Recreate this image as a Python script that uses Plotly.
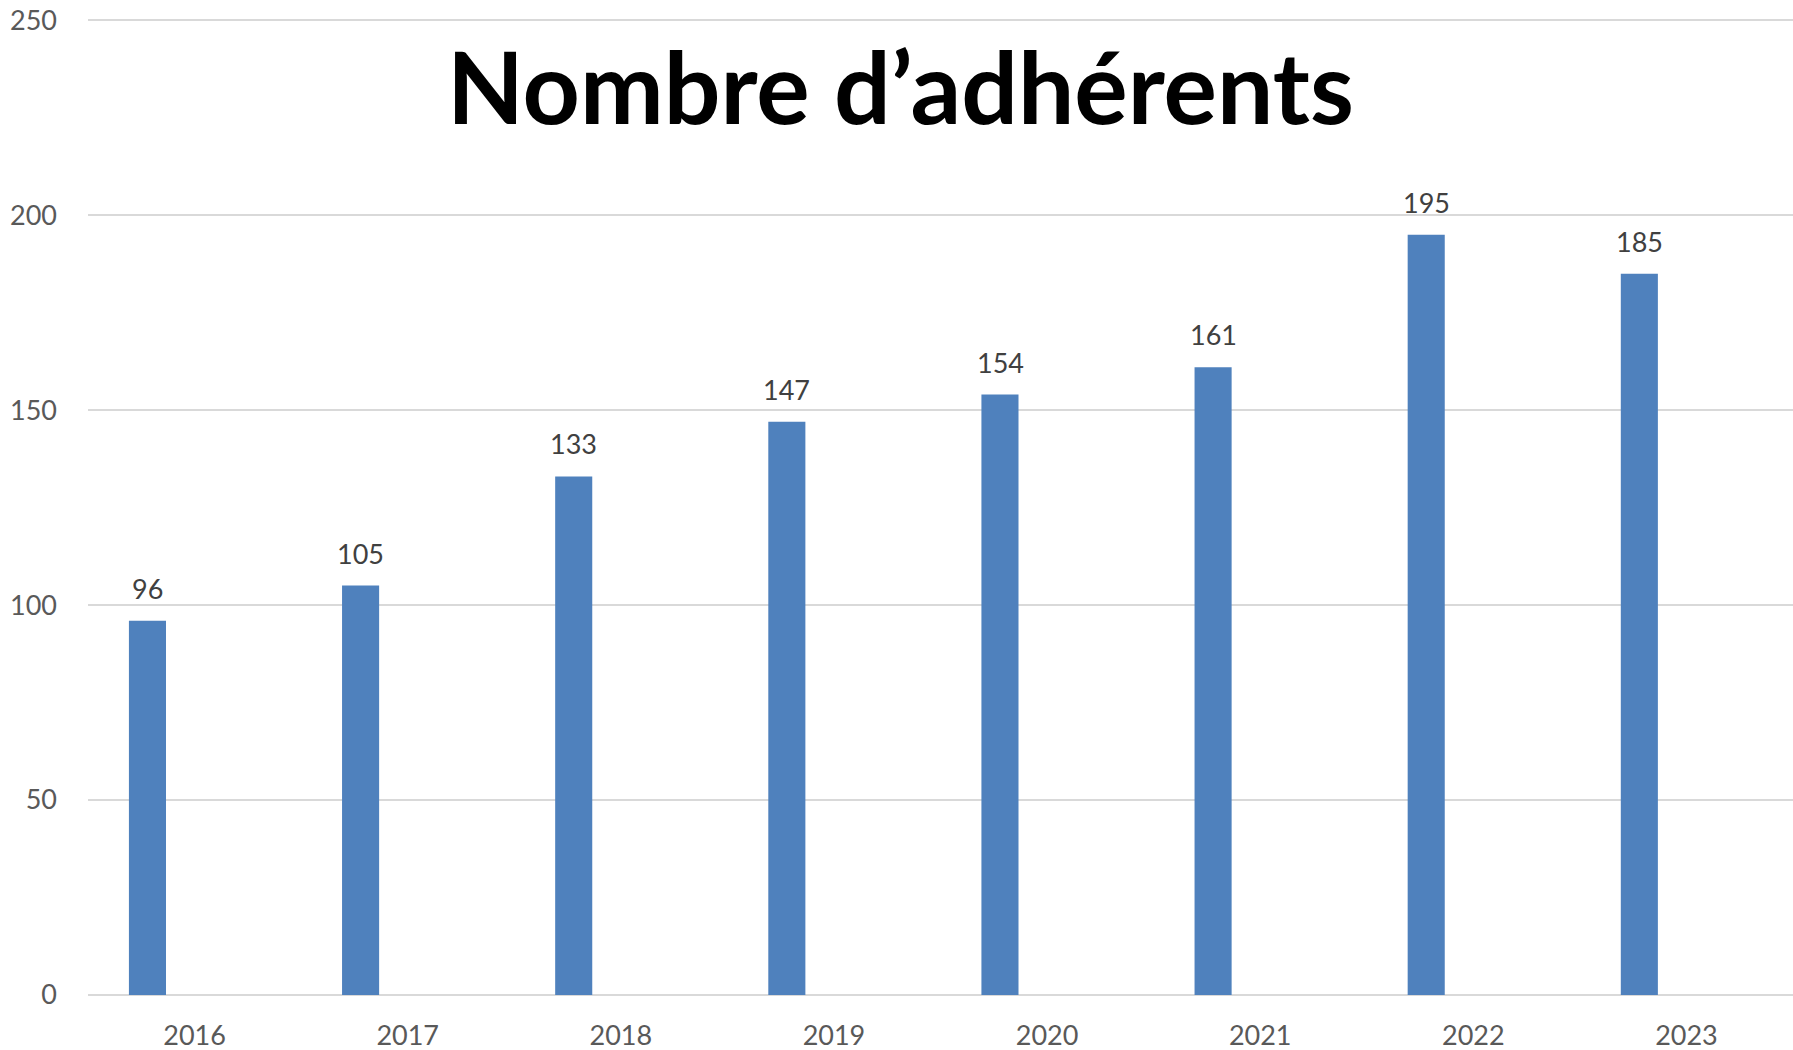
import plotly.graph_objects as go

years = ["2016", "2017", "2018", "2019", "2020", "2021", "2022", "2023"]
members = [96, 105, 133, 147, 154, 161, 195, 185]
y_ticks = [0, 50, 100, 150, 200, 250]
title_text = "Nombre d’adhérents"

BAR_COLOR = "#4F81BD"
GRID = "#D9D9D9"
TICK_COLOR = "#595959"
LABEL_COLOR = "#404040"
FONT = "Lato, 'Open Sans', sans-serif"

fig = go.Figure()
fig.add_trace(go.Bar(
    x=years, y=members,
    marker=dict(color=BAR_COLOR, line=dict(width=0)),
    offset=-0.308, width=0.174,
    hoverinfo="x+y",
))

for i, v in enumerate(members):
    fig.add_annotation(
        x=i, y=v, text=str(v), showarrow=False,
        xshift=-47, yshift=14, yanchor="bottom",
        font=dict(family=FONT, size=27, color=LABEL_COLOR),
    )

fig.update_layout(
    width=1793, height=1050,
    margin=dict(l=88, r=0, t=19, b=55),
    paper_bgcolor="white", plot_bgcolor="white",
    showlegend=False,
    title=dict(
        text="<b>" + title_text + "</b>",
        x=0.5022, xref="container", xanchor="center",
        y=0.9154, yref="container", yanchor="middle",
        font=dict(family=FONT, size=100, color="black"),
    ),
    xaxis=dict(
        type="category", range=[-0.5, 7.5],
        showgrid=False, showline=False, zeroline=False,
        ticks="", tickfont=dict(family=FONT, size=27, color=TICK_COLOR),
        ticklabelstandoff=22,
    ),
    yaxis=dict(
        range=[0, 250.3], tickvals=y_ticks,
        showgrid=True, gridcolor=GRID, gridwidth=1.5,
        zeroline=True, zerolinecolor=GRID, zerolinewidth=1.5,
        showline=False, ticks="",
        tickfont=dict(family=FONT, size=27, color=TICK_COLOR),
        ticklabelstandoff=30,
    ),
)

fig.write_html(
    "out.html",
    config={"displayModeBar": False},
    post_script="document.body.style.margin='0';document.body.style.overflow='hidden';",
)
